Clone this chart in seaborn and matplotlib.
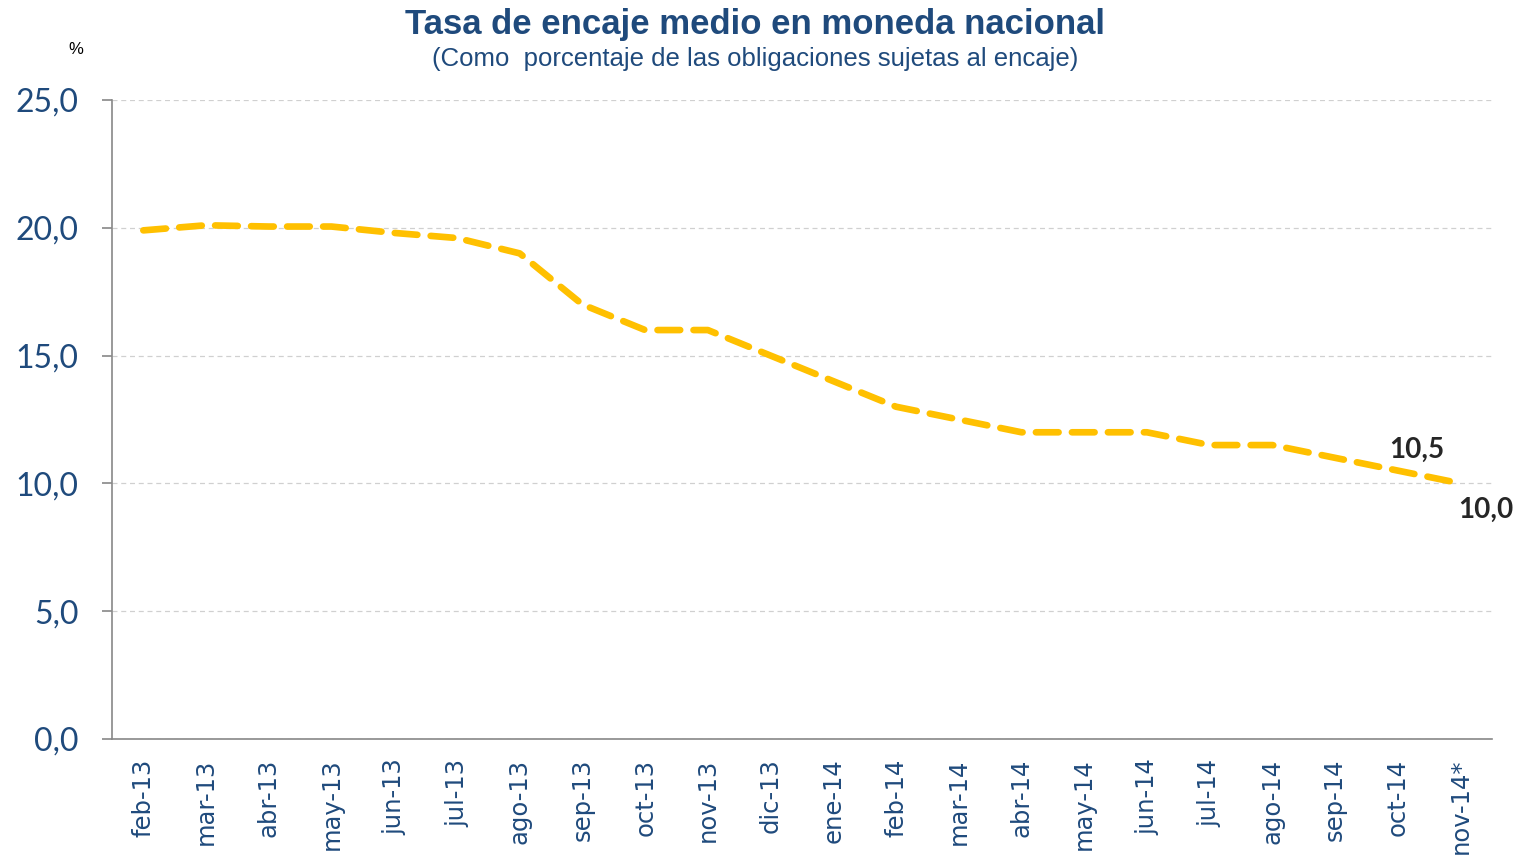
import numpy as np
import pandas as pd
import matplotlib
matplotlib.use("Agg")
import matplotlib.pyplot as plt
import seaborn as sns

# datos (tasa de encaje medio MN, %)
meses = ["feb-13", "mar-13", "abr-13", "may-13", "jun-13", "jul-13", "ago-13",
         "sep-13", "oct-13", "nov-13", "dic-13", "ene-14", "feb-14", "mar-14",
         "abr-14", "may-14", "jun-14", "jul-14", "ago-14", "sep-14", "oct-14",
         "nov-14*"]
tasa = [19.9, 20.1, 20.05, 20.05, 19.8, 19.6, 19.0, 17.0, 16.0, 16.0, 15.0,
        14.0, 13.0, 12.5, 12.0, 12.0, 12.0, 11.5, 11.5, 11.0, 10.5, 10.0]
y_ticks = [0, 5, 10, 15, 20, 25]

azul = "#1F4A7C"
df = pd.DataFrame({"pos": np.arange(len(meses)), "tasa": tasa})

sns.set_style("white")
plt.rcParams["font.family"] = ["Liberation Sans", "DejaVu Sans"]

fig = plt.figure(figsize=(15.19, 8.6), dpi=100)
ax = fig.add_axes([0.0737, 0.1407, 0.9085, 0.743])

sns.lineplot(data=df, x="pos", y="tasa", ax=ax, color="#FFC000", linewidth=4.8,
             dashes=False)
line = ax.lines[0]
line.set_dashes((3.4, 2.0))
line.set_dash_capstyle("round")
line.set_solid_capstyle("round")

ax.set_xlim(-0.5, len(meses) - 0.5)
ax.set_ylim(0, 25)
ax.set_yticks(y_ticks)
ax.set_yticklabels([f"{v:.1f}".replace(".", ",") for v in y_ticks],
                   fontsize=23, color=azul, family=["Lato", "DejaVu Sans"])
ax.yaxis.grid(True, color="#D0D0D0", linestyle=(0, (4, 3)), linewidth=0.9)
ax.set_axisbelow(True)

ax.set_xticks(range(len(meses)))
ax.set_xticklabels(meses, rotation=90, fontsize=17.5, color=azul,
                   family=["DejaVu Sans"])
ax.set_xticks(np.arange(-0.5, len(meses), 2), minor=True)
ax.tick_params(axis="x", which="major", length=0, pad=14)
ax.tick_params(axis="x", which="minor", length=8, color="#888888", width=1.2,
               direction="out")
ax.tick_params(axis="y", length=7, color="#888888", width=1.2, direction="out",
               pad=17, left=True)
ax.set_xlabel("")
ax.set_ylabel("")

for s in ["top", "right"]:
    ax.spines[s].set_visible(False)
for s in ["left", "bottom"]:
    ax.spines[s].set_color("#888888")
    ax.spines[s].set_linewidth(1.2)

# etiquetas de los ultimos datos
ax.text(20.3, tasa[20] + 0.8, "10,5", fontsize=20, fontweight="bold",
        family=["Lato", "DejaVu Sans"], ha="center", va="center")
ax.text(21.4, tasa[21] - 1.05, "10,0", fontsize=20, fontweight="bold",
        family=["Lato", "DejaVu Sans"], ha="center", va="center")

fig.text(0.497, 0.972, "Tasa de encaje medio en moneda nacional", fontsize=25,
         fontweight="bold", color=azul, ha="center", va="center")
fig.text(0.497, 0.931, "(Como  porcentaje de las obligaciones sujetas al encaje)",
         fontsize=18.5, color=azul, ha="center", va="center")
fig.text(0.05, 0.942, "%", fontsize=12, color="black", ha="center", va="center")

fig.savefig("out.png", dpi=100)
